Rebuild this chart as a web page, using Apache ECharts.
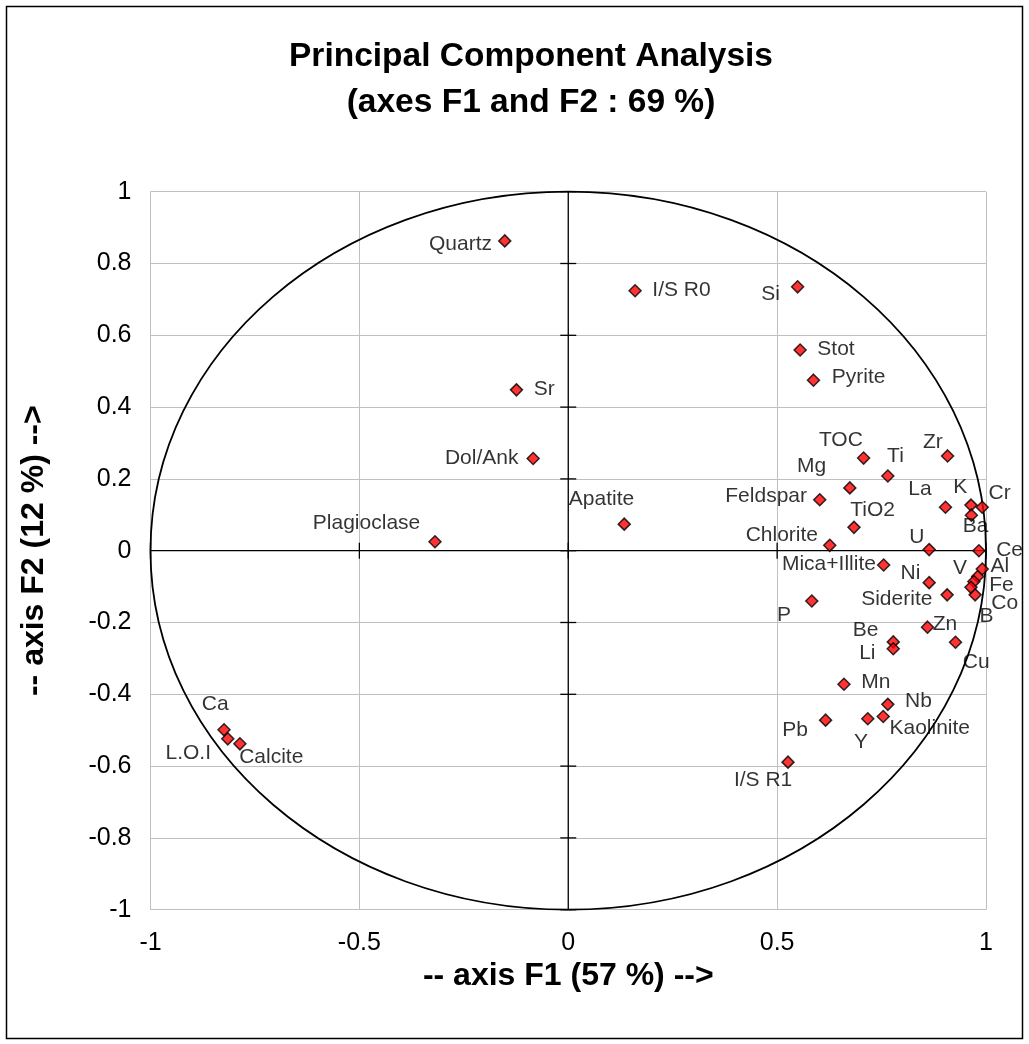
<!DOCTYPE html>
<html><head><meta charset="utf-8">
<script src="https://cdn.jsdelivr.net/npm/echarts@6/dist/echarts.min.js"></script>
<style>html,body{margin:0;padding:0;background:#fff}#c{width:1029px;height:1044px}</style>
</head><body><div id="c"></div>
<script>
// ---- data ----
const variables = ['Quartz','I/S R0','Si','Stot','Pyrite','Sr','Dol/Ank','Plagioclase','Apatite','TOC','Ti','Zr','Mg','Feldspar','La','K','Cr','Ba','TiO2','Chlorite','U','Ce','Mica+Illite','V','Al','Fe','Co','B','Ni','Siderite','P','Zn','Cu','Be','Li','Mn','Nb','Kaolinite','Y','Pb','I/S R1','Ca','L.O.I','Calcite'];
const f1 = [-0.152,0.160,0.549,0.555,0.587,-0.124,-0.084,-0.319,0.134,0.707,0.765,0.908,0.674,0.602,0.903,0.964,0.991,0.965,0.684,0.626,0.864,0.983,0.755,0.980,0.991,0.971,0.964,0.974,0.864,0.907,0.583,0.860,0.927,0.778,0.778,0.660,0.765,0.754,0.717,0.616,0.526,-0.824,-0.815,-0.786];
const f2 = [0.863,0.724,0.735,0.559,0.475,0.448,0.257,0.025,0.074,0.258,0.208,0.264,0.175,0.142,0.121,0.127,0.121,0.099,0.065,0.015,0.003,0.000,-0.040,-0.072,-0.051,-0.086,-0.102,-0.123,-0.089,-0.123,-0.140,-0.213,-0.255,-0.254,-0.273,-0.372,-0.428,-0.462,-0.468,-0.472,-0.589,-0.499,-0.524,-0.538];
const xTicks = [-1,-0.5,0,0.5,1];
const yTicks = [-1,-0.8,-0.6,-0.4,-0.2,0,0.2,0.4,0.6,0.8,1];
const titleText = 'Principal Component Analysis\n(axes F1 and F2 : 69 %)';
const xTitle = '-- axis F1 (57 %) -->';
const yTitle = '-- axis F2 (12 %) -->';

// ---- label placement (style only): [anchor, dx, dy] from marker centre ----
const labelLayout = {
 'Quartz':['r',-12,4],'I/S R0':['l',18,0],'Si':['r',-17,8],'Stot':['l',18,0],'Pyrite':['l',19,-2],
 'Sr':['l',18,0],'Dol/Ank':['r',-14,1],'Plagioclase':['r',-14,-18],'Apatite':['c',-22,-24],
 'TOC':['r',0,-17],'Ti':['l',0,-19],'Zr':['r',-4,-13],'Mg':['r',-23,-21],'Feldspar':['r',-12,-3],
 'La':['r',-13,-17],'K':['r',-3,-17],'Cr':['l',7,-13],'Ba':['l',-8,12],'TiO2':['l',-3,-16],
 'Chlorite':['r',-11,-9],'U':['r',-4,-12],'Ce':['l',18,0],'Mica+Illite':['r',-7,0],
 'V':['r',-10,-8],'Al':['l',9,-2],'Fe':['l',16,4],'Co':['l',21,17],'B':['l',5,22],
 'Ni':['r',-8,-9],'Siderite':['r',-14,5],'P':['r',-20,15],'Zn':['l',6,-2],'Cu':['l',8,21],
 'Be':['r',-14,-11],'Li':['r',-17,5],'Mn':['l',18,-1],'Nb':['l',18,-2],'Kaolinite':['l',7,12],
 'Y':['c',-6,24],'Pb':['r',-17,11],'I/S R1':['r',5,19],'Ca':['c',-8,-25],'L.O.I':['r',-16,15],
 'Calcite':['l',0,14]
};
const FONT = "'Liberation Sans', Arial, sans-serif";
const alignMap = {l:'left', r:'right', c:'center'};
const SYM = 12;

const points = variables.map((n,i) => {
  const lay = labelLayout[n] || ['l',10,0];
  return {
    name: n,
    value: [f1[i], f2[i]],
    label: { show:true, position:[SYM/2 + lay[1], SYM/2 + lay[2]], align: alignMap[lay[0]], verticalAlign:'middle',
             formatter: n, color:'#000', fontSize:21, fontFamily: FONT, textBorderWidth:0 }
  };
});

const chart = echarts.init(document.getElementById('c'), null, {renderer:'canvas'});
chart.setOption({
  animation:false,
  backgroundColor:'#fff',
  title:{ text:titleText, left:526, top:29, textAlign:'center',
    textStyle:{ fontSize:33.5, fontWeight:'bold', fontFamily:FONT, color:'#000', lineHeight:46 } },
  grid:{ left:150.5, right:43, top:191.7, bottom:134.3, containLabel:false },
  xAxis:{ type:'value', min:-1, max:1, interval:0.5,
    axisLine:{show:false}, axisTick:{show:false},
    axisLabel:{ fontSize:25, fontFamily:FONT, color:'#000', margin:21,
      formatter: v => (xTicks.indexOf(v) >= 0 ? String(v) : '') },
    splitLine:{ show:true, lineStyle:{ color:'#c0c0c0', width:1 } },
    name:xTitle, nameLocation:'middle', nameGap:42,
    nameTextStyle:{ fontSize:32, fontWeight:'bold', fontFamily:FONT, color:'#000' } },
  yAxis:{ type:'value', min:-1, max:1, interval:0.2,
    axisLine:{show:false}, axisTick:{show:false},
    axisLabel:{ fontSize:25, fontFamily:FONT, color:'#000', margin:19,
      formatter: v => { const r = Math.round(v*10)/10; return String(r); } },
    splitLine:{ show:true, lineStyle:{ color:'#c0c0c0', width:1 } },
    name:yTitle, nameLocation:'middle', nameGap:100,
    nameTextStyle:{ fontSize:32, fontWeight:'bold', fontFamily:FONT, color:'#000' } },
  graphic:[{ type:'rect', shape:{x:6.5,y:6.5,width:1016,height:1032}, style:{fill:null, stroke:'#000', lineWidth:1.5}, silent:true }],
  series:[
    { type:'custom', z:1, silent:true, clip:false, data:[[0,0]],
      renderItem:(params, api) => {
        const c = api.coord([0,0]);
        const s = api.size([1,1]);
        const ch = [];
        ch.push({ type:'ellipse', shape:{cx:c[0], cy:c[1], rx:s[0], ry:s[1]}, style:{fill:null, stroke:'#000', lineWidth:1.8} });
        const xa = api.coord([-1,0]), xb = api.coord([1,0]);
        ch.push({ type:'line', shape:{x1:xa[0], y1:xa[1], x2:xb[0], y2:xb[1]}, style:{stroke:'#000', lineWidth:1.3} });
        const ya = api.coord([0,-1]), yb = api.coord([0,1]);
        ch.push({ type:'line', shape:{x1:ya[0], y1:ya[1], x2:yb[0], y2:yb[1]}, style:{stroke:'#000', lineWidth:1.3} });
        xTicks.forEach(t => { const p = api.coord([t,0]);
          ch.push({ type:'line', shape:{x1:p[0], y1:p[1]-8, x2:p[0], y2:p[1]+8}, style:{stroke:'#000', lineWidth:1.3} }); });
        yTicks.forEach(t => { const p = api.coord([0,t]);
          ch.push({ type:'line', shape:{x1:p[0]-8, y1:p[1], x2:p[0]+8, y2:p[1]}, style:{stroke:'#000', lineWidth:1.3} }); });
        return { type:'group', children:ch };
      } },
    { type:'scatter', z:3, symbol:'diamond', symbolSize:SYM,
      itemStyle:{ color:'#ff0000', borderColor:'#000', borderWidth:1.5 },
      labelLayout:{ hideOverlap:false },
      data:points }
  ]
});
</script></body></html>
